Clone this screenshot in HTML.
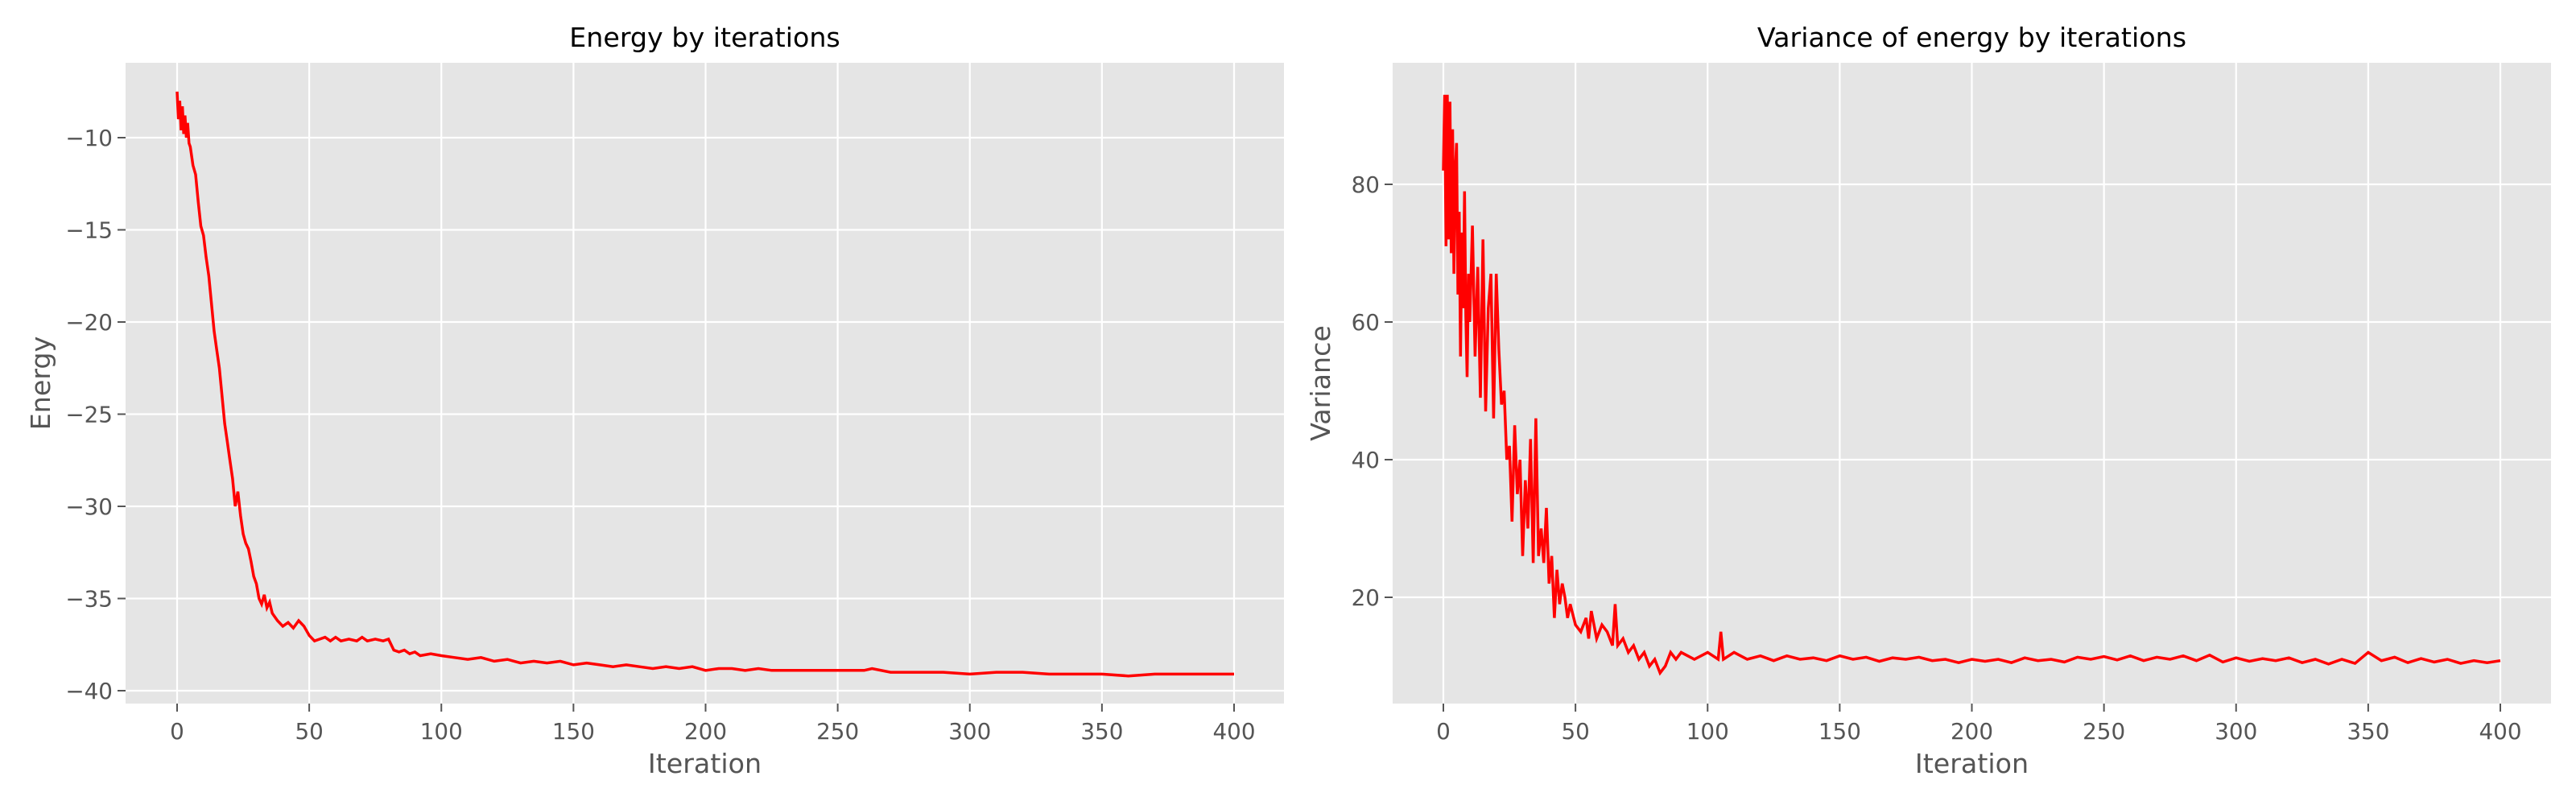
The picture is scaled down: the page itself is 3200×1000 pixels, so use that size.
<!DOCTYPE html>
<html><head><meta charset="utf-8"><style>
html,body{margin:0;padding:0;background:#fff;}
svg{display:block;font-family:"DejaVu Sans","Liberation Sans",sans-serif;}
</style></head><body>
<svg id="chart" width="3200" height="1000" viewBox="0 0 3200 1000" xmlns="http://www.w3.org/2000/svg">
<rect width="3200" height="1000" fill="#fff"/>
</svg>
<script>
const energyX = [0,0.5,1,1.5,2,2.5,3,3.5,4,4.5,5,6,7,8,9,10,11,12,13,14,15,16,17,18,19,20,21,22,23,24,25,26,27,28,29,30,31,32,33,34,35,36,38,40,42,44,46,48,50,52,54,56,58,60,62,65,68,70,72,75,78,80,82,84,86,88,90,92,96,100,105,110,115,120,125,130,135,140,145,150,155,160,165,170,175,180,185,190,195,200,205,210,215,220,225,230,240,250,255,260,263,270,280,290,300,310,320,330,340,350,360,370,380,390,400];
const energyY = [-7.5,-9,-8,-9.6,-8.3,-9.8,-8.8,-10,-9.2,-10.3,-10.5,-11.5,-12,-13.5,-14.8,-15.3,-16.5,-17.5,-19,-20.5,-21.5,-22.5,-24,-25.5,-26.5,-27.5,-28.5,-30,-29.2,-30.5,-31.5,-32,-32.3,-33,-33.8,-34.2,-35,-35.3,-34.8,-35.5,-35.2,-35.8,-36.2,-36.5,-36.3,-36.6,-36.2,-36.5,-37,-37.3,-37.2,-37.1,-37.3,-37.1,-37.3,-37.2,-37.3,-37.1,-37.3,-37.2,-37.3,-37.2,-37.8,-37.9,-37.8,-38,-37.9,-38.1,-38,-38.1,-38.2,-38.3,-38.2,-38.4,-38.3,-38.5,-38.4,-38.5,-38.4,-38.6,-38.5,-38.6,-38.7,-38.6,-38.7,-38.8,-38.7,-38.8,-38.7,-38.9,-38.8,-38.8,-38.9,-38.8,-38.9,-38.9,-38.9,-38.9,-38.9,-38.9,-38.8,-39,-39,-39,-39.1,-39,-39,-39.1,-39.1,-39.1,-39.2,-39.1,-39.1,-39.1,-39.1];
const varX = [0,0.5,1,1.5,2,2.5,3,3.5,4,4.5,5,5.5,6,6.5,7,7.5,8,8.5,9,9.5,10,11,12,13,14,15,16,17,18,19,20,21,22,23,24,25,26,27,28,29,30,31,32,33,34,35,36,37,38,39,40,41,42,43,44,45,46,47,48,50,52,54,55,56,58,60,62,64,65,66,68,70,72,74,76,78,80,82,84,86,88,90,95,100,104,105,106,110,115,120,125,130,135,140,145,150,155,160,165,170,175,180,185,190,195,200,205,210,215,220,225,230,235,240,245,250,255,260,265,270,275,280,285,290,295,300,305,310,315,320,325,330,335,340,345,350,355,360,365,370,375,380,385,390,395,400];
const varY = [82,93,71,93,72,92,70,88,67,82,86,64,76,55,73,62,79,61,52,67,60,74,55,68,49,72,47,62,67,46,67,56,48,50,40,42,31,45,35,40,26,37,30,43,25,46,26,30,25,33,22,26,17,24,19,22,20,17,19,16,15,17,14,18,14,16,15,13,19,13,14,12,13,11,12,10,11,9,10,12,11,12,11,12,11,15,11,12,11,11.5,10.8,11.5,11,11.2,10.8,11.5,11,11.3,10.7,11.2,11,11.3,10.8,11,10.5,11,10.7,11,10.5,11.2,10.8,11,10.6,11.3,11,11.4,10.9,11.5,10.8,11.3,11,11.5,10.8,11.6,10.6,11.2,10.7,11.1,10.8,11.2,10.5,11,10.3,11,10.4,12,10.8,11.3,10.5,11.1,10.6,11,10.4,10.8,10.5,10.8];
const xTicks = [0,50,100,150,200,250,300,350,400];
const eTicks = [-10,-15,-20,-25,-30,-35,-40];
const vTicks = [20,40,60,80];

const NS = "http://www.w3.org/2000/svg";
const svg = document.getElementById('chart');
function mk(tag, attrs, parent){ const e=document.createElementNS(NS,tag); for(const k in attrs) e.setAttribute(k,attrs[k]); (parent||svg).appendChild(e); return e; }

function panel(cfg){
  const g = mk('g',{});
  
  
  const sx = v => cfg.x0px + (v - 0) * (cfg.x400px - cfg.x0px) / 400;
  const sy = v => cfg.yAp + (v - cfg.yA) * (cfg.yBp - cfg.yAp) / (cfg.yB - cfg.yA);
  const bg = mk('rect',{x:cfg.L,y:cfg.T,width:cfg.R-cfg.L,height:cfg.B-cfg.T,fill:'#E5E5E5'},g);
  
  
  xTicks.forEach(t=>{
    const X = sx(t);
    mk('line',{x1:X,x2:X,y1:cfg.T,y2:cfg.B,stroke:'#fff',"stroke-width":2.2},g);
    mk('line',{x1:X,x2:X,y1:cfg.B,y2:cfg.B+10,stroke:'#555',"stroke-width":2},g);
    const tx = mk('text',{x:X,y:cfg.B+44,"text-anchor":'middle',"font-size":27.8,fill:'#555'},g);
    tx.textContent = t;
    
    
  });
  cfg.yTicks.forEach(t=>{
    const Y = sy(t);
    mk('line',{x1:cfg.L,x2:cfg.R,y1:Y,y2:Y,stroke:'#fff',"stroke-width":2.2},g);
    mk('line',{x1:cfg.L-10,x2:cfg.L,y1:Y,y2:Y,stroke:'#555',"stroke-width":2},g);
    const tx = mk('text',{x:cfg.L-16,y:Y+10,"text-anchor":'end',"font-size":27.8,fill:'#555'},g);
    tx.textContent = String(t).replace('-','\u2212');
    
    
  });
  const pts = cfg.xs.map((x,i)=>sx(x).toFixed(1)+','+sy(cfg.ys[i]).toFixed(1)).join(' ');
  const line = mk('polyline',{points:pts,fill:'none',stroke:'#ff0000',"stroke-width":3.5,"stroke-linejoin":'miter'},g);
  
  
  const title = mk('text',{x:(cfg.L+cfg.R)/2,y:58,"text-anchor":'middle',"font-size":33.3,fill:'#000'},g);
  title.textContent = cfg.title;
  
  
  const xl = mk('text',{x:(cfg.L+cfg.R)/2,y:960,"text-anchor":'middle',"font-size":33.3,fill:'#555'},g);
  xl.textContent = 'Iteration';
  
  
  const cy = (cfg.T+cfg.B)/2;
  const yl = mk('text',{x:cfg.ylx,y:cy,"text-anchor":'middle',"font-size":33.3,fill:'#555',transform:`rotate(-90 ${cfg.ylx} ${cy})`},g);
  yl.textContent = cfg.ylabel;
  
  
}

panel({name:'energy-panel',title:'Energy by iterations',ylabel:'Energy',L:156,R:1595,T:78,B:874,
  x0px:220,x400px:1533,yA:-10,yAp:171,yB:-40,yBp:858,yTicks:eTicks,xs:energyX,ys:energyY,ylx:62});
panel({name:'variance-panel',title:'Variance of energy by iterations',ylabel:'Variance',L:1730,R:3169,T:78,B:874,
  x0px:1793,x400px:3106,yA:80,yAp:229,yB:20,yBp:742,yTicks:vTicks,xs:varX,ys:varY,ylx:1652});
</script>
</body></html>
